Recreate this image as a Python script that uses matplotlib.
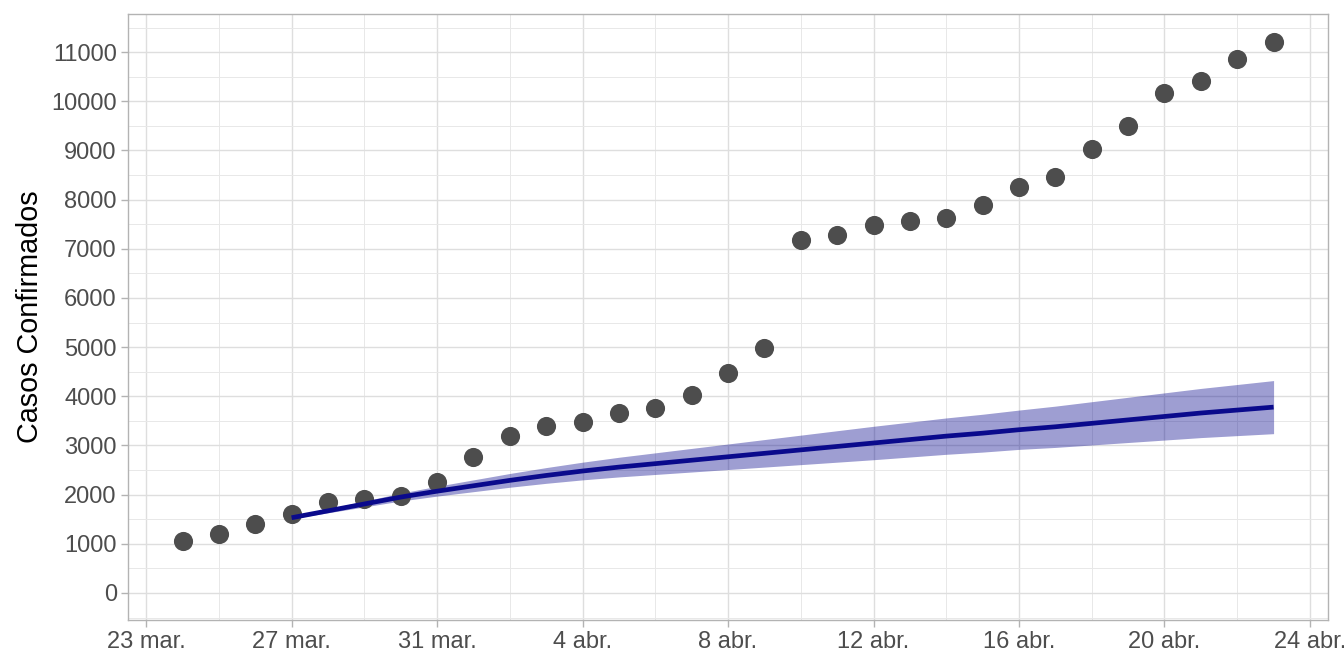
import matplotlib
matplotlib.use("Agg")
import matplotlib.pyplot as plt
import matplotlib.dates as mdates
import pandas as pd
from matplotlib.ticker import MultipleLocator


# observed confirmed cases, one per day from 24 mar. to 23 abr.
CASE_DATES = pd.date_range("2020-03-24", "2020-04-23", freq="D")
CASES = [1050, 1200, 1410, 1600, 1850, 1910, 1970, 2250, 2760, 3190,
         3390, 3470, 3660, 3760, 4020, 4470, 4980, 7170, 7280, 7480,
         7560, 7620, 7890, 8250, 8470, 9040, 9490, 10160, 10420, 10870,
         11200]

# model fit with its band, 27 mar. to 23 abr.
FIT_DATES = pd.date_range("2020-03-27", "2020-04-23", freq="D")
FIT = [1530, 1670, 1810, 1950, 2070, 2180, 2290, 2390, 2480, 2560,
       2630, 2700, 2770, 2840, 2910, 2980, 3050, 3120, 3190, 3250,
       3320, 3380, 3450, 3520, 3590, 3660, 3720, 3780]
FIT_LOW = [1510, 1630, 1750, 1870, 1970, 2060, 2150, 2230, 2300, 2360,
           2410, 2460, 2510, 2560, 2610, 2660, 2710, 2765, 2820, 2865,
           2920, 2960, 3010, 3060, 3110, 3160, 3200, 3240]
FIT_HIGH = [1550, 1710, 1870, 2030, 2170, 2300, 2430, 2550, 2660, 2760,
            2850, 2940, 3030, 3120, 3210, 3300, 3390, 3475, 3560, 3635,
            3720, 3800, 3890, 3980, 4070, 4160, 4240, 4320]

TICK_DATES = pd.date_range("2020-03-23", "2020-04-24", freq="4D")
TICK_LABELS = ["23 mar.", "27 mar.", "31 mar.", "4 abr.", "8 abr.",
               "12 abr.", "16 abr.", "20 abr.", "24 abr."]
MINOR_DATES = pd.date_range("2020-03-25", "2020-04-22", freq="4D")

POINT = "#4d4d4d"
LINE = "#0a0a8c"
BAND = "#00008b"
GRID_MAJOR = "#dedede"
GRID_MINOR = "#e8e8e8"
BORDER = "#b3b3b3"
TICK_TEXT = "#4d4d4d"

plt.rcParams["font.family"] = ["Liberation Sans", "DejaVu Sans"]

fig = plt.figure(figsize=(13.44, 6.72), dpi=100)
ax = fig.add_axes([0.0952, 0.0774, 0.893, 0.9013])

ax.fill_between(FIT_DATES, FIT_LOW, FIT_HIGH, color=BAND, alpha=0.38,
                lw=0, zorder=2)
ax.scatter(CASE_DATES, CASES, s=190, color=POINT, lw=0, zorder=3)
ax.plot(FIT_DATES, FIT, color=LINE, lw=3.4, zorder=4, solid_capstyle="butt")

ax.set_xticks(mdates.date2num(TICK_DATES))
ax.set_xticklabels(TICK_LABELS)
ax.set_xticks(mdates.date2num(MINOR_DATES), minor=True)
ax.yaxis.set_major_locator(MultipleLocator(1000))
ax.yaxis.set_minor_locator(MultipleLocator(500))

ax.set_xlim(mdates.date2num(pd.Timestamp("2020-03-22 12:00")),
            mdates.date2num(pd.Timestamp("2020-04-24 12:00")))
ax.set_ylim(-550, 11770)

ax.grid(True, which="major", color=GRID_MAJOR, lw=1.0, zorder=0)
ax.grid(True, which="minor", color=GRID_MINOR, lw=0.7, zorder=0)
ax.set_axisbelow(True)

for sp in ax.spines.values():
    sp.set_color(BORDER)
    sp.set_linewidth(1.0)

ax.tick_params(which="major", length=5, width=1.0, color=BORDER,
               labelcolor=TICK_TEXT, labelsize=17, pad=3)
ax.tick_params(which="minor", length=0)

ax.set_ylabel("Casos Confirmados", fontsize=20.7, color="black", labelpad=5)

fig.savefig("out.png", dpi=100)
